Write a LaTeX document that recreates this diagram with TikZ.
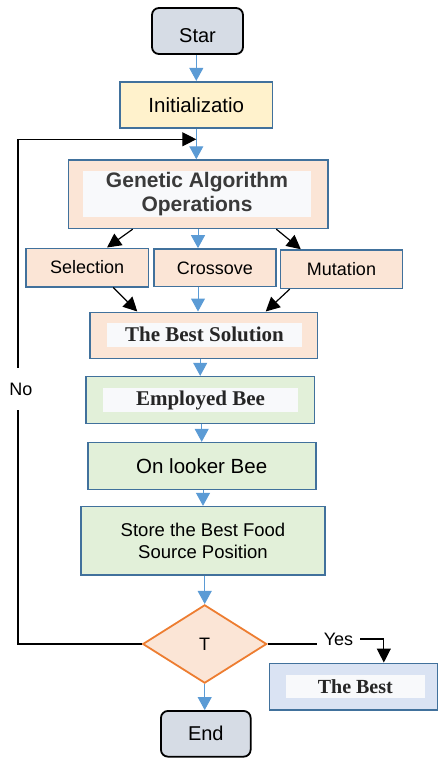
\documentclass[tikz,border=0pt]{standalone}
\usepackage{fontspec}
\setmainfont{Liberation Sans}
\newfontfamily\bestfont{Liberation Serif}
\usetikzlibrary{calc, arrows.meta, shapes.geometric}
\definecolor{lineblue}{HTML}{5B9BD5}
\definecolor{boxedge}{HTML}{41719C}
\definecolor{peach}{HTML}{FBE5D6}
\definecolor{inityellow}{HTML}{FFF2CC}
\definecolor{beegreen}{HTML}{E2F0D9}
\definecolor{resblue}{HTML}{DAE3F3}
\definecolor{termgray}{HTML}{D6DCE5}
\definecolor{decorange}{HTML}{ED7D31}
\definecolor{innerwhite}{HTML}{F8F9FB}
\definecolor{gatext}{HTML}{3A3A3A}
\definecolor{darktext}{HTML}{262626}

\begin{document}
\begin{tikzpicture}[x=1pt,y=-1pt,every node/.style={inner sep=0pt,align=center},
box/.style={shape=rectangle,draw=boxedge,line width=1.6pt,font=\fontsize{20.5}{24}\selectfont},
term/.style={shape=rectangle,rounded corners=7pt,draw=black,line width=1.8pt,fill=termgray,font=\fontsize{20}{24}\selectfont},
inner/.style={shape=rectangle,fill=innerwhite},
small/.style={font=\fontsize{18}{20}\selectfont},
blu/.style={draw=lineblue,line width=1pt,-{Triangle[length=13pt,width=14pt]}},
blk/.style={draw=black,line width=1.2pt,-{Triangle[length=14pt,width=14pt]}},
%scale=0.7, transform shape
]
\useasboundingbox (0,0) rectangle (438,758);

\node [term,minimum width=91pt,minimum height=46pt,text height=22pt,text depth=0pt] (nStart) at (197.5,31) {Star};
\node [box,fill=inityellow,minimum width=152.7pt,minimum height=46pt] (nInit) at (196.3,104.7) {Initializatio};

\node [box,fill=peach,minimum width=259.4pt,minimum height=68.3pt] (nGA) at (198,194.2) {};
\node [inner,minimum width=228pt,minimum height=45.7pt,font=\fontsize{21}{24}\selectfont\bfseries,text=gatext] (nGAtxt) at (197,194) {Genetic Algorithm\\Operations};

\node [box,small,fill=peach,minimum width=122.3pt,minimum height=38.4pt] (nSel) at (87.2,267.5) {Selection};
\node [box,small,fill=peach,minimum width=122pt,minimum height=37.7pt] (nCro) at (215,267.8) {Crossove};
\node [box,small,fill=peach,minimum width=121.7pt,minimum height=38.3pt] (nMut) at (341.5,269.2) {Mutation};

\node [box,fill=peach,minimum width=227.7pt,minimum height=46pt] (nBest) at (203.8,335.3) {};
\node [inner,minimum width=194.4pt,minimum height=24pt,font=\bestfont\bfseries\fontsize{21}{24}\selectfont,text=darktext] (nBestTxt) at (204.5,334.7) {The Best Solution};

\node [box,fill=beegreen,minimum width=228.3pt,minimum height=46.7pt] (nEmp) at (200.2,400) {};
\node [inner,minimum width=194.4pt,minimum height=23.3pt,font=\bestfont\bfseries\fontsize{21}{24}\selectfont,text=darktext] (nEmpTxt) at (200.5,400) {Employed Bee};

\node [box,fill=beegreen,minimum width=228pt,minimum height=46.7pt] (nOnl) at (201.7,466) {On looker Bee};
\node [box,fill=beegreen,minimum width=244pt,minimum height=68.3pt,font=\fontsize{18.5}{21.7}\selectfont] (nStore) at (203,540.8) {Store the Best Food\\Source Position};

\node [shape=diamond,draw=decorange,line width=1.8pt,fill=peach,minimum width=124pt,minimum height=78.3pt,small] (nT) at (204.7,644) {T};

\node [box,fill=resblue,minimum width=168pt,minimum height=46.7pt] (nRes) at (353.3,686.7) {};
\node [inner,minimum width=139.3pt,minimum height=23.3pt,font=\bestfont\bfseries\fontsize{20}{24}\selectfont,text=darktext] (nResTxt) at (355.3,686.7) {The Best};

\node [term,minimum width=89.7pt,minimum height=45.7pt] (nEnd) at (205.8,733.8) {End};

\node [small,inner xsep=7pt] (nYes) at (338.5,639) {Yes};
\node [small,minimum height=42pt] (nNo) at (21,389) {No};
\coordinate (cLoopB) at (18,644);
\coordinate (cLoopT) at (18,139.3);

\draw [blu] (nInit.north |- nStart.south) -- (nInit.north);
\draw [blu] (nInit.south) -- (nInit.south |- nGA.north);
\draw [blu] (nGA.south) -- (nGA.south |- nCro.north);
\draw [blk] ($(nGA.south west)!0.25!(nGA.south east)$) -- ($(nSel.north west)!0.66!(nSel.north east)$);
\draw [blk] ($(nGA.south west)!0.8!(nGA.south east)$) -- ($(nMut.north west)!0.17!(nMut.north east)$);
\draw [blk] ($(nSel.south west)!0.71!(nSel.south east)$) -- ($(nBest.north west)!0.21!(nBest.north east)$);
\draw [blu] (nCro.south -| nGA.south) -- (nBest.north -| nGA.south);
\draw [blk] ($(nMut.south west)!0.08!(nMut.south east)$) -- ($(nBest.north west)!0.77!(nBest.north east)$);
\draw [blu] (nEmp.north |- nBest.south) -- (nEmp.north);
\draw [blu] (nOnl.north |- nEmp.south) -- (nOnl.north);
\draw [blu] (nStore.north |- nOnl.south) -- (nStore.north);
\draw [blu] (nT.north |- nStore.south) -- (nT.north);
\draw [blu] (nT.south) -- (nT.south |- nEnd.north);

\draw [line width=1.2pt] (nT.east) -- (nT.east -| nYes.west);
\draw [blk] (nYes.east) -| ($(nRes.north west)!0.68!(nRes.north east)$);
\draw [line width=1.2pt] (nT.west) -- (cLoopB) -- (nNo.south -| cLoopB);
\draw [blk] (nNo.north -| cLoopB) -- (cLoopT) -- (nInit.south |- cLoopT);

\end{tikzpicture}
\end{document}
